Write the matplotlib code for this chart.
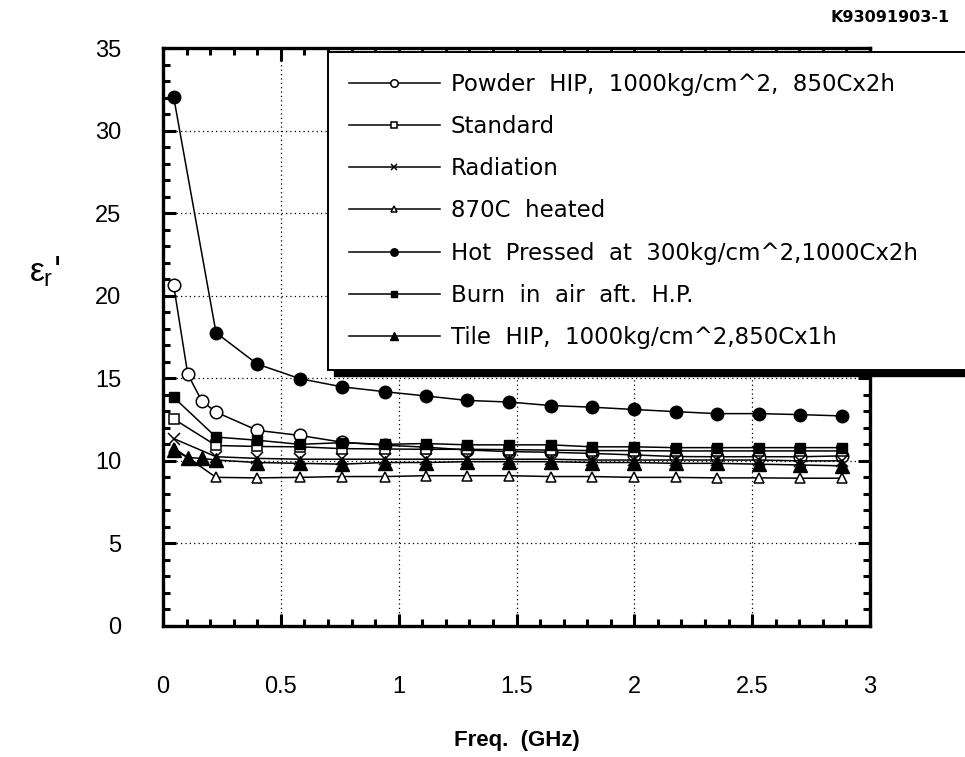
import numpy as np
import matplotlib
matplotlib.use("Agg")
from matplotlib import pyplot as plt
from matplotlib.patches import Rectangle

plt.rcParams['font.family'] = ['Liberation Sans', 'DejaVu Sans']
plt.rcParams['mathtext.fontset'] = 'custom'
plt.rcParams['mathtext.rm'] = 'Liberation Sans'
plt.rcParams['mathtext.it'] = 'Liberation Sans'

# frequencies (GHz)
freq_all = [0.045, 0.105, 0.165, 0.225, 0.40, 0.58, 0.76, 0.94, 1.115, 1.29,
            1.47, 1.645, 1.82, 2.0, 2.175, 2.35, 2.53, 2.705, 2.88]
freq = [0.045, 0.225, 0.40, 0.58, 0.76, 0.94, 1.115, 1.29,
        1.47, 1.645, 1.82, 2.0, 2.175, 2.35, 2.53, 2.705, 2.88]

powder_hip = [20.65, 15.25, 13.62, 12.95, 11.85, 11.54, 11.13, 10.95, 10.83, 10.66,
              10.56, 10.52, 10.45, 10.36, 10.26, 10.25, 10.25, 10.25, 10.3]
standard = [12.54, 10.93, 10.87, 10.85, 10.74, 10.72, 10.7, 10.7, 10.68, 10.65,
            10.62, 10.62, 10.6, 10.6, 10.6, 10.6, 10.6]
radiation = [11.35, 10.25, 10.15, 10.1, 10.1, 10.1, 10.1, 10.1, 10.1, 10.1,
             10.05, 10.05, 10.05, 10.05, 10.05, 10.0, 10.0]
heated_870 = [10.8, 9.0, 8.97, 9.0, 9.05, 9.05, 9.1, 9.1, 9.1, 9.05,
              9.05, 9.0, 9.0, 8.97, 8.97, 8.95, 8.95]
hot_pressed = [32.05, 17.76, 15.86, 14.98, 14.48, 14.19, 13.93, 13.66, 13.56, 13.35,
               13.25, 13.11, 12.98, 12.86, 12.86, 12.8, 12.72]
burn_air = [13.85, 11.44, 11.25, 11.0, 11.1, 11.0, 11.05, 10.97, 10.97, 10.97,
            10.85, 10.85, 10.8, 10.8, 10.8, 10.8, 10.8]
tile_hip = [10.66, 10.2, 10.15, 10.05, 9.9, 9.85, 9.8, 9.9, 9.9, 9.95,
            9.95, 9.95, 9.9, 9.9, 9.85, 9.85, 9.8, 9.75, 9.7]

labels = ["Powder  HIP,  1000kg/cm^2,  850Cx2h",
          "Standard",
          "Radiation",
          "870C  heated",
          "Hot  Pressed  at  300kg/cm^2,1000Cx2h",
          "Burn  in  air  aft.  H.P.",
          "Tile  HIP,  1000kg/cm^2,850Cx1h"]

fig = plt.figure(figsize=(9.65, 7.57), dpi=100)
ax = fig.add_axes([163/965, 1-626/757, (870-163)/965, (626-48)/757])

lw = 1.1
ax.plot(freq_all, powder_hip, '-o', color='k', lw=lw, ms=9, mfc='white', mew=1.1, label=labels[0])
ax.plot(freq, standard, '-s', color='k', lw=lw, ms=7, mfc='white', mew=1.1, label=labels[1])
ax.plot(freq, radiation, '-x', color='k', lw=lw, ms=8, mew=1.1, label=labels[2])
ax.plot(freq, heated_870, '-^', color='k', lw=lw, ms=7.5, mfc='white', mew=1.1, label=labels[3])
ax.plot(freq, hot_pressed, '-o', color='k', lw=lw, ms=9, label=labels[4])
ax.plot(freq, burn_air, '-s', color='k', lw=lw, ms=7.5, label=labels[5])
ax.plot(freq_all, tile_hip, '-^', color='k', lw=lw, ms=10, label=labels[6])

ax.set_xlim(0, 3)
ax.set_ylim(0, 35)
ax.set_xticks(np.arange(0, 3.01, 0.5))
ax.set_xticklabels(['0', '0.5', '1', '1.5', '2', '2.5', '3'])
ax.set_yticks(np.arange(0, 36, 5))
ax.set_xticks(np.arange(0, 3.01, 0.1), minor=True)
ax.set_yticks(np.arange(0, 36, 1), minor=True)
ax.tick_params(which='both', direction='in', top=True, right=True, width=2.2)
ax.tick_params(which='major', length=9, labelsize=17)
ax.tick_params(which='minor', length=5)
ax.tick_params(axis='y', pad=30)
ax.tick_params(axis='x', pad=36)
for s in ax.spines.values():
    s.set_linewidth(2.4)
ax.grid(True, which='major', ls=(0, (1, 2.5)), color='k', lw=0.9)

ax.set_xlabel("Freq.  (GHz)", fontsize=16, fontweight='bold', labelpad=23)
fig.text(45/965, 1-272/757, r"$\varepsilon_{\mathrm{r}}$'", fontsize=24,
         ha='center', va='center', family='DejaVu Sans')
fig.text(950/965, 1-18/757, "K93091903-1", fontsize=11.5, fontweight='bold',
         ha='right', va='center', family='DejaVu Sans')

leg_x0, leg_top, leg_bot = 328/965, 1-52/757, 1-360/757
leg = fig.legend(loc='upper left', bbox_to_anchor=(leg_x0, leg_bot, 1.02-leg_x0, leg_top-leg_bot),
                 mode='expand', frameon=True, fancybox=False,
                 prop={'family': 'DejaVu Sans', 'size': 16.5},
                 edgecolor='k', framealpha=1, handlelength=4.0, handletextpad=0.45,
                 labelspacing=0.84, borderpad=0.9, markerscale=0.6, borderaxespad=0)
leg.get_frame().set_linewidth(1.4)
leg.set_zorder(5)

fig.canvas.draw()
bb = leg.get_window_extent().transformed(fig.transFigure.inverted())
shadow = Rectangle((bb.x0 + 6/965, bb.y0 - 6/757), bb.width, bb.height,
                   transform=fig.transFigure, facecolor='k', edgecolor='k', zorder=4)
fig.add_artist(shadow)

fig.savefig('out.png', dpi=100)
